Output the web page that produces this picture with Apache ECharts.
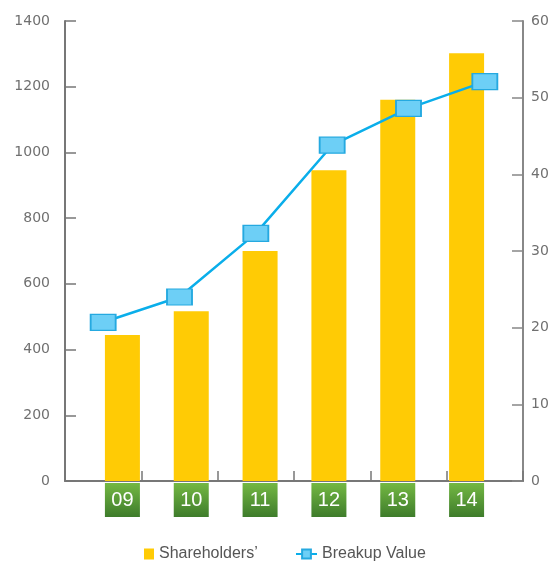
<!DOCTYPE html>
<html>
<head>
<meta charset="utf-8">
<script src="https://cdn.jsdelivr.net/npm/echarts@6/dist/echarts.min.js"></script>
<style>html,body{margin:0;padding:0;background:#fff;}#c{width:559px;height:561px;}</style>
</head>
<body>
<div id="c"></div>
<script>
const categories = ['09', '10', '11', '12', '13', '14'];
const shareholders = [444, 517, 700, 946, 1160, 1302];
const breakupValue = [20.7, 24.0, 32.3, 43.8, 48.6, 52.1];
const leftTicks = { min: 0, max: 1400, interval: 200 };
const rightTicks = { min: 0, max: 60, interval: 10 };

const axisGray = '#777';
const labelGray = '#707070';

const chart = echarts.init(document.getElementById('c'), null, { renderer: 'canvas' });
chart.setOption({
  animation: false,
  backgroundColor: '#fff',
  grid: [
    { left: 65, right: 36, top: 21, bottom: 80 },
    { left: 88, right: 58, top: 21, bottom: 80 }
  ],
  legend: [
    {
      data: ['Shareholders’'],
      left: 139, top: 541,
      itemWidth: 10, itemHeight: 11, itemGap: 0,
      icon: 'rect',
      textStyle: { fontFamily: 'Liberation Sans', fontSize: 16, color: '#555' }
    },
    {
      data: ['Breakup Value'],
      left: 290, top: 541,
      itemWidth: 21, itemHeight: 11, itemGap: 0,
      textStyle: { fontFamily: 'Liberation Sans', fontSize: 16, color: '#555' }
    }
  ],
  xAxis: [
    {
      type: 'category', gridIndex: 0, data: categories, boundaryGap: true,
      axisLine: { show: true, lineStyle: { color: axisGray, width: 2 } },
      axisTick: { show: true, inside: true, length: 10, interval: 0, lineStyle: { color: axisGray, width: 1.5 } },
      axisLabel: { show: false }
    },
    {
      type: 'category', gridIndex: 1, data: categories, boundaryGap: true,
      axisLine: { show: false }, axisTick: { show: false },
      axisLabel: {
        show: true, interval: 0, margin: 2,
        color: '#fff', fontFamily: 'Liberation Sans', fontSize: 20,
        width: 35, height: 34, lineHeight: 34, align: 'center',
        backgroundColor: {
          type: 'linear', x: 0, y: 0, x2: 0, y2: 1,
          colorStops: [{ offset: 0, color: '#74b843' }, { offset: 1, color: '#3e7c2b' }]
        }
      }
    }
  ],
  yAxis: [
    {
      type: 'value', gridIndex: 0, position: 'left',
      min: leftTicks.min, max: leftTicks.max, interval: leftTicks.interval,
      axisLine: { show: true, lineStyle: { color: axisGray, width: 2 } },
      axisTick: { show: true, inside: true, length: 11, lineStyle: { color: axisGray, width: 1.5 } },
      splitLine: { show: false },
      axisLabel: { color: labelGray, fontFamily: 'DejaVu Sans', fontSize: 14, margin: 15, formatter: v => String(v) }
    },
    {
      type: 'value', gridIndex: 0, position: 'right',
      min: rightTicks.min, max: rightTicks.max, interval: rightTicks.interval,
      axisLine: { show: true, lineStyle: { color: '#888', width: 2 } },
      axisTick: { show: true, inside: true, length: 11, lineStyle: { color: '#888', width: 1.5 } },
      splitLine: { show: false },
      axisLabel: { color: labelGray, fontFamily: 'DejaVu Sans', fontSize: 14, margin: 8, formatter: v => String(v) }
    },
    {
      type: 'value', gridIndex: 1, show: false,
      min: leftTicks.min, max: leftTicks.max, interval: leftTicks.interval,
      splitLine: { show: false }
    }
  ],
  series: [
    {
      name: 'Shareholders’', type: 'bar', xAxisIndex: 1, yAxisIndex: 2,
      data: shareholders, barWidth: 35, z: 1,
      itemStyle: { color: '#ffcb05' }
    },
    {
      name: 'Breakup Value', type: 'line', xAxisIndex: 0, yAxisIndex: 1,
      data: breakupValue, z: 5,
      symbol: 'rect', symbolSize: [25, 16],
      lineStyle: { color: '#0aaeea', width: 2.5 },
      itemStyle: { color: '#6dcff6', borderColor: '#25a9e0', borderWidth: 1.5 }
    }
  ]
});
</script>
</body>
</html>
